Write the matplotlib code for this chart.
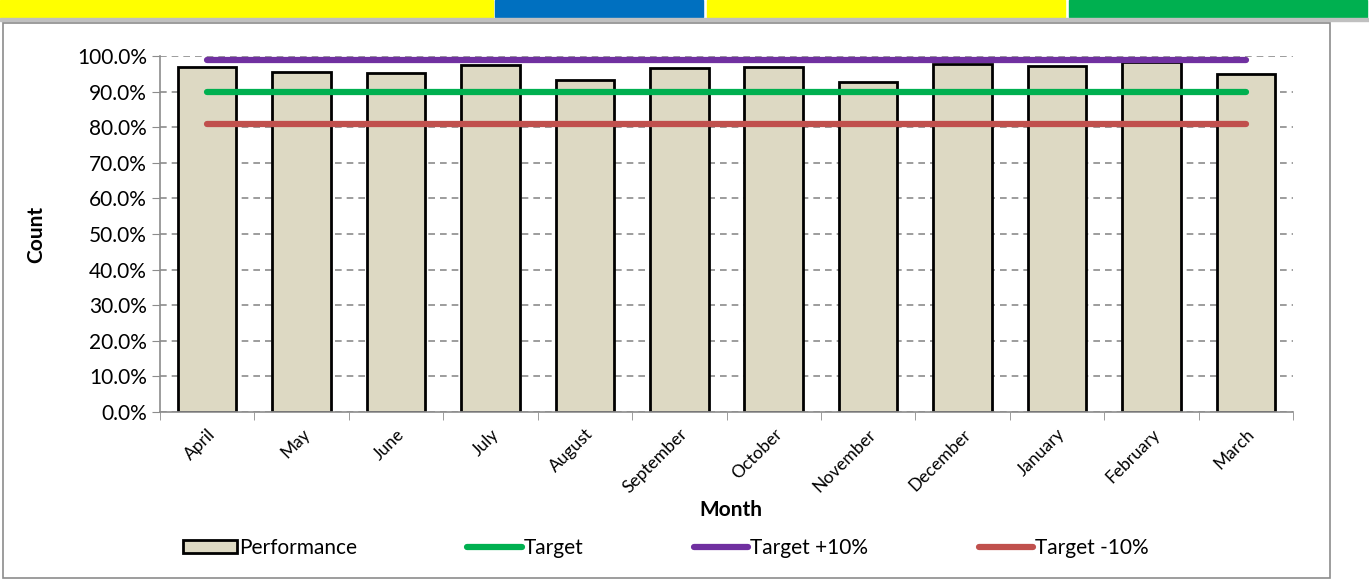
import matplotlib.pyplot as plt
from matplotlib.patches import Rectangle, Patch
from matplotlib.lines import Line2D
from matplotlib.ticker import PercentFormatter

months = ["April", "May", "June", "July", "August", "September", "October",
          "November", "December", "January", "February", "March"]
performance = [97.0, 95.5, 95.2, 97.5, 93.2, 96.7, 96.9, 92.8, 97.8, 97.3, 98.3, 95.0]
target = [90.0] * 12
target_plus = [99.0] * 12
target_minus = [81.0] * 12

plt.rcParams['font.family'] = ['Lato', 'DejaVu Sans']

fig = plt.figure(figsize=(13.69, 5.81), dpi=100)

# coloured strip at the top and the chart frame
strip = [(0.0, 495, '#FFFF00'), (495, 705, '#0070C0'),
         (707, 1067, '#FFFF00'), (1069, 1369, '#00B050')]
for x0, x1, c in strip:
    fig.add_artist(Rectangle((x0 / 1369, 1 - 17 / 581), (x1 - x0 - 2) / 1369, 17 / 581,
                             transform=fig.transFigure, color=c, zorder=0))
fig.add_artist(Rectangle((0, 1 - 21 / 581), 1, 3 / 581, transform=fig.transFigure,
                         color='#C0C0C0', zorder=0))
fig.add_artist(Rectangle((3 / 1369, 3 / 581), 1327 / 1369, 555 / 581,
                         transform=fig.transFigure, facecolor='white',
                         edgecolor='#8C8C8C', lw=1.2, zorder=0))

ax = fig.add_axes([160 / 1369, 1 - 412 / 581, 1133 / 1369, 356 / 581])
ax.set_facecolor('none')
x = list(range(len(months)))

ax.bar(x, performance, width=0.62, color='#DDD9C3', edgecolor='black', linewidth=2, zorder=2)
ax.plot(x, target, color='#00B050', lw=4.5, solid_capstyle='round', zorder=3)
ax.plot(x, target_plus, color='#7030A0', lw=4.5, solid_capstyle='round', zorder=3)
ax.plot(x, target_minus, color='#C0504D', lw=4.5, solid_capstyle='round', zorder=3)

ax.set_xlim(-0.5, 11.5)
ax.set_ylim(0, 100)
ax.set_yticks(range(0, 101, 10))
ax.yaxis.set_major_formatter(PercentFormatter(decimals=1))
ax.yaxis.grid(True, color='#8C8C8C', linestyle=(0, (4, 3)), lw=1.2, zorder=1)

ax.set_xticks(x)
ax.set_xticklabels(months, rotation=45, ha='right', va='top', rotation_mode='anchor', fontsize=12.5)
ax.set_xticks([i - 0.5 for i in range(13)], minor=True)
ax.tick_params(axis='x', which='major', length=0, pad=10)
ax.tick_params(axis='x', which='minor', length=6, color='#8C8C8C')
ax.tick_params(axis='y', length=6, color='#8C8C8C', labelsize=15)

for s in ['top', 'right']:
    ax.spines[s].set_visible(False)
for s in ['left', 'bottom']:
    ax.spines[s].set_color('#8C8C8C')
    ax.spines[s].set_linewidth(1.2)

ax.set_ylabel('Count', fontsize=15, fontweight='bold', labelpad=22)
fig.text(731 / 1369, 1 - 510 / 581, 'Month', fontsize=15, fontweight='bold', ha='center', va='center')

handles = [Patch(facecolor='#DDD9C3', edgecolor='black', lw=2),
           Line2D([], [], color='#00B050', lw=4.5, solid_capstyle='round'),
           Line2D([], [], color='#7030A0', lw=4.5, solid_capstyle='round'),
           Line2D([], [], color='#C0504D', lw=4.5, solid_capstyle='round')]
fig.legend(handles, ['Performance', 'Target', 'Target +10%', 'Target -10%'],
           loc='center left', bbox_to_anchor=(164 / 1369, 1 - 548 / 581), ncol=4,
           frameon=False, fontsize=15, handlelength=2.6, handleheight=0.6,
           handletextpad=0.1, columnspacing=5.3)

fig.savefig('out.png', dpi=100)
